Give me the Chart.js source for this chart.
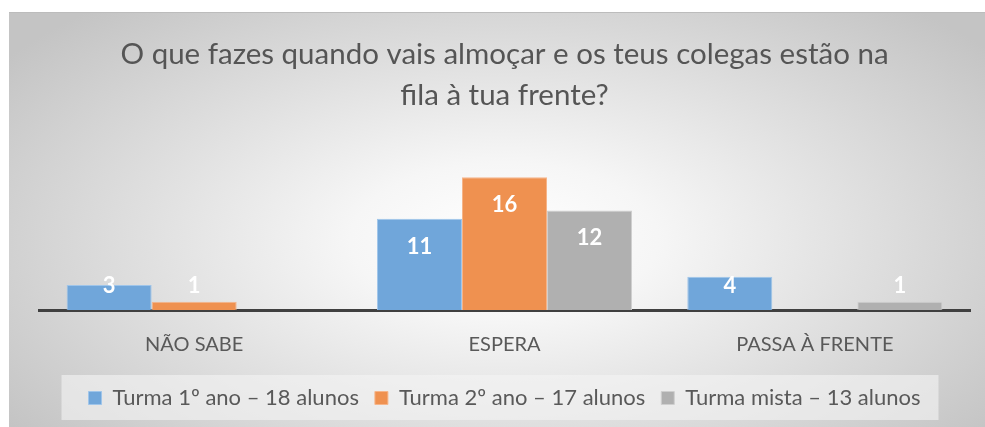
<!DOCTYPE html>
<html><head><meta charset="utf-8">
<script src="https://cdn.jsdelivr.net/npm/chart.js@4/dist/chart.umd.min.js"></script>
<style>
html,body{margin:0;padding:0;background:#fff;overflow:hidden;width:985px;height:427px;}
#wrap{position:absolute;left:9px;top:12px;width:990px;height:415px;
background:radial-gradient(ellipse 62% 75% at 50% 55%, #ffffff 0%, #f6f6f6 25%, #c4c4c4 100%);
box-shadow: inset 0 1px 0 #bcbcbc;}
#wrap canvas{display:block;}
</style></head><body>
<div id="wrap"><canvas id="c" width="990" height="415"></canvas></div>
<script>
const categories = ['NÃO SABE', 'ESPERA', 'PASSA À FRENTE'];
const seriesNames = ['Turma 1º ano – 18 alunos', 'Turma 2º ano – 17 alunos', 'Turma mista – 13 alunos'];
const turma1 = [3, 11, 4];
const turma2 = [1, 16, null];
const turmaMista = [null, 12, 1];
const titleLines = ['O que fazes quando vais almoçar e os teus colegas estão na', 'fila à tua frente?'];
const yMax = 18;

const FONT = 'Lato, "Open Sans", sans-serif';

const legendBg = {
  id: 'legendBg',
  beforeDraw(chart) {
    const lg = chart.legend;
    if (!lg || !lg.legendHitBoxes || !lg.legendHitBoxes.length) return;
    const hb = lg.legendHitBoxes;
    let minX = Infinity, maxX = -Infinity, minY = Infinity, maxY = -Infinity;
    hb.forEach(h => { minX = Math.min(minX, h.left); maxX = Math.max(maxX, h.left + h.width);
      minY = Math.min(minY, h.top); maxY = Math.max(maxY, h.top + h.height); });
    const ctx = chart.ctx;
    ctx.save();
    ctx.fillStyle = 'rgba(244,244,244,0.62)';
    ctx.fillRect(minX - 27, minY - 12, (maxX - minX) + 45, (maxY - minY) + 23);
    ctx.restore();
  }
};

const barLabels = {
  id: 'barLabels',
  afterDatasetsDraw(chart) {
    const ctx = chart.ctx;
    ctx.save();
    ctx.font = 'bold 22px ' + FONT;
    ctx.fillStyle = '#ffffff';
    ctx.textAlign = 'center';
    ctx.textBaseline = 'middle';
    chart.data.datasets.forEach((ds, i) => {
      const meta = chart.getDatasetMeta(i);
      meta.data.forEach((el, j) => {
        const v = ds.data[j];
        if (v === null || v === undefined) return;
        const y = Math.min(el.y + 28, el.base - 24);
        ctx.fillText(String(v), el.x, y);
      });
    });
    ctx.restore();
  }
};

new Chart(document.getElementById('c'), {
  type: 'bar',
  data: {
    labels: categories,
    datasets: [
      { label: seriesNames[0], data: turma1, backgroundColor: '#70a6da', borderColor: '#9fc5ea', borderWidth: 1 },
      { label: seriesNames[1], data: turma2, backgroundColor: '#ef9150', borderColor: '#f6b58a', borderWidth: 1 },
      { label: seriesNames[2], data: turmaMista, backgroundColor: '#b0b0b0', borderColor: '#cfcfcf', borderWidth: 1 }
    ]
  },
  options: {
    responsive: false,
    animation: false,
    layout: { padding: { left: 30, right: 29, top: 0, bottom: 8 } },
    datasets: { bar: { categoryPercentage: 0.822, barPercentage: 1.0 } },
    plugins: {
      title: {
        display: true,
        text: titleLines,
        color: '#555555',
        font: { family: FONT, size: 29.5, weight: 'normal', lineHeight: 1.4 },
        padding: { top: 22, bottom: 44 }
      },
      legend: {
        position: 'bottom',
        labels: {
          color: '#595959',
          font: { family: FONT, size: 22 },
          boxWidth: 13, boxHeight: 13,
          padding: 16
        }
      },
      tooltip: { enabled: false }
    },
    scales: {
      x: {
        grid: { display: false, drawTicks: false },
        border: { display: true, color: '#404040', width: 3 },
        ticks: { color: '#595959', font: { family: FONT, size: 20 }, padding: 23 },
        afterFit(scale) { scale.height -= 9; }
      },
      y: { display: false, min: 0, max: yMax }
    }
  },
  plugins: [legendBg, barLabels]
});
</script>
</body></html>
